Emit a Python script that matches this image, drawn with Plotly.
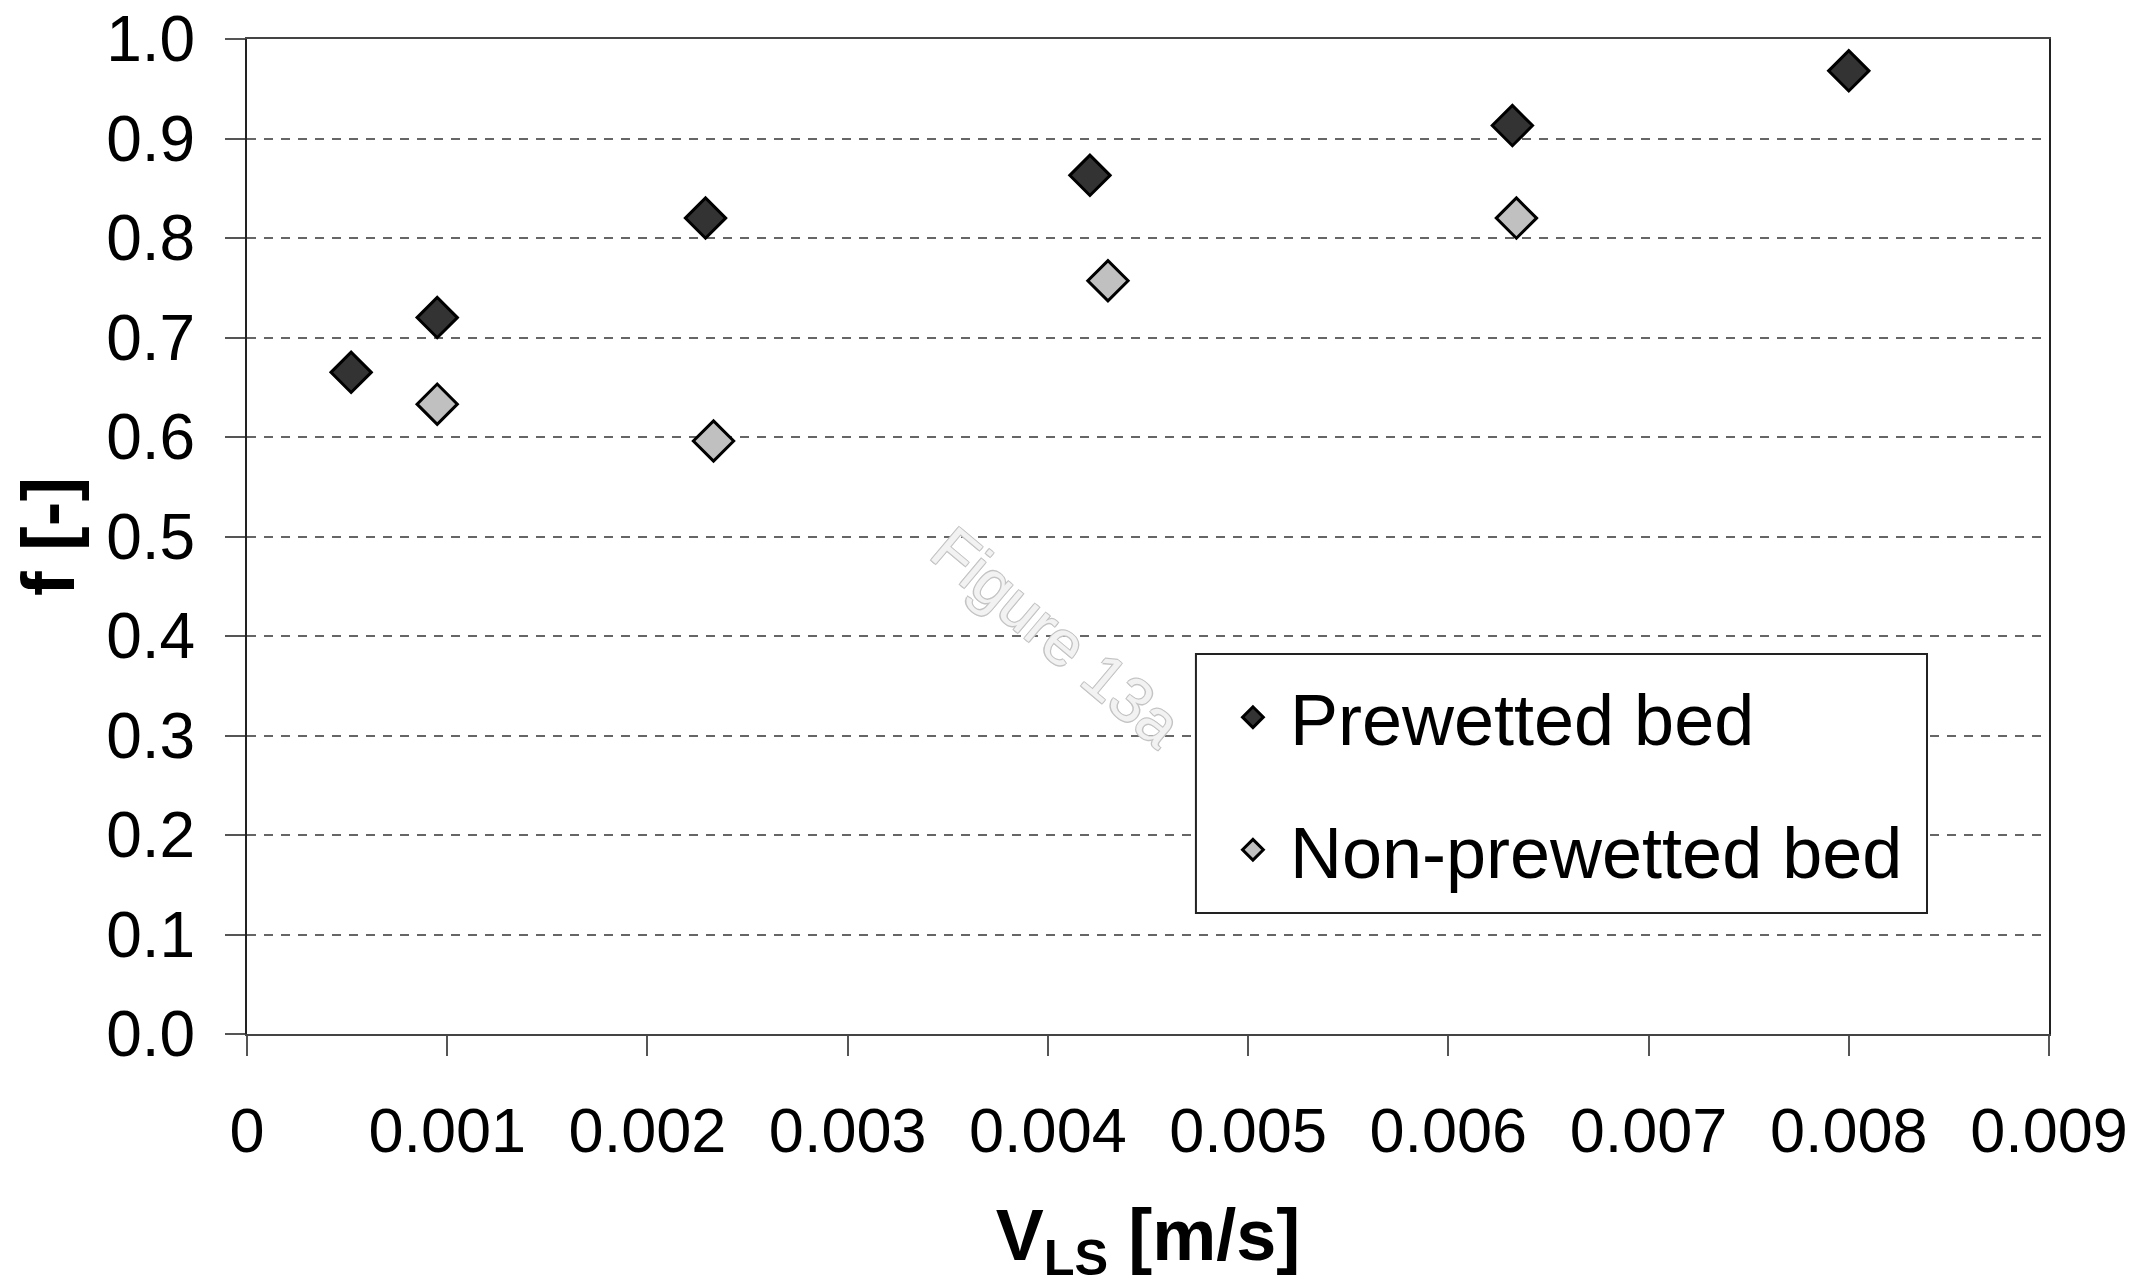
import plotly.graph_objects as go

# Data
pre_x = [0.00052, 0.00095, 0.00229, 0.00421, 0.00632, 0.00800]
pre_y = [0.665, 0.720, 0.820, 0.863, 0.913, 0.968]
non_x = [0.00095, 0.00233, 0.00430, 0.00634]
non_y = [0.633, 0.596, 0.757, 0.820]

x_ticks = [0, 0.001, 0.002, 0.003, 0.004, 0.005, 0.006, 0.007, 0.008, 0.009]
x_ticklabels = ["0", "0.001", "0.002", "0.003", "0.004", "0.005", "0.006", "0.007", "0.008", "0.009"]
y_ticks = [0.0, 0.1, 0.2, 0.3, 0.4, 0.5, 0.6, 0.7, 0.8, 0.9, 1.0]
y_ticklabels = ["0.0", "0.1", "0.2", "0.3", "0.4", "0.5", "0.6", "0.7", "0.8", "0.9", "1.0"]

FONT = "Liberation Sans, Arial, sans-serif"

fig = go.Figure()
fig.add_trace(go.Scatter(
    x=pre_x, y=pre_y, mode="markers", name="Prewetted bed", legendgroup="a",
    marker=dict(symbol="diamond", size=31, color="#333333",
                line=dict(color="#000000", width=3)),
))
fig.add_trace(go.Scatter(
    x=non_x, y=non_y, mode="markers", name="Non-prewetted bed", legendgroup="b",
    marker=dict(symbol="diamond", size=31, color="#c0c0c0",
                line=dict(color="#000000", width=3)),
))

# legend frame
fig.add_shape(type="rect", xref="paper", yref="paper",
              x0=0.5266, x1=0.9323, y0=0.1216, y1=0.3819,
              line=dict(color="#222222", width=2), fillcolor="white", layer="above")

# watermark
fig.add_annotation(
    x=0.4495, y=0.399, xref="paper", yref="paper", text="Figure 13a",
    showarrow=False, textangle=40,
    font=dict(family=FONT, size=63, color="#f2f2f2",
              shadow="1px 1px 0 #c4c4c4, -1px -1px 0 #c4c4c4, 1px -1px 0 #c4c4c4, -1px 1px 0 #c4c4c4"),
)

fig.update_layout(
    width=2136, height=1286,
    margin=dict(l=247, r=87, t=39, b=252, autoexpand=False),
    paper_bgcolor="white", plot_bgcolor="white",
    font=dict(family=FONT, color="black"),
    showlegend=True,
    legend=dict(
        x=0.5377, y=0.372, xanchor="left", yanchor="top",
        bgcolor="rgba(0,0,0,0)", borderwidth=0,
        font=dict(family=FONT, size=72, color="black"),
        traceorder="grouped", tracegroupgap=36,
        itemsizing="trace", itemwidth=64,
    ),
    xaxis=dict(
        range=[0, 0.009], tickmode="array", tickvals=x_ticks, ticktext=x_ticklabels,
        showgrid=False, zeroline=False,
        showline=True, linecolor="#444444", linewidth=2, mirror=True,
        ticks="outside", ticklen=20, tickwidth=2, tickcolor="#555555",
        tickfont=dict(family=FONT, size=63, color="black"),
        ticklabelstandoff=20,
        title=dict(text="<b>V<sub>LS</sub> [m/s]</b>", font=dict(family=FONT, size=72, color="black"),
                   standoff=85),
        automargin=False,
    ),
    yaxis=dict(
        range=[0, 1.0], tickmode="array", tickvals=y_ticks, ticktext=y_ticklabels,
        showgrid=True, gridcolor="#666666", gridwidth=2, griddash="9px,8px",
        zeroline=False,
        showline=True, linecolor="#222222", linewidth=2, mirror=True,
        ticks="outside", ticklen=20, tickwidth=2, tickcolor="#555555",
        tickfont=dict(family=FONT, size=64, color="black"),
        ticklabelstandoff=17,
        title=dict(text="<b>f [-]</b>", font=dict(family=FONT, size=74, color="black"),
                   standoff=7),
        automargin=False,
    ),
)

fig.write_html("out.html")
